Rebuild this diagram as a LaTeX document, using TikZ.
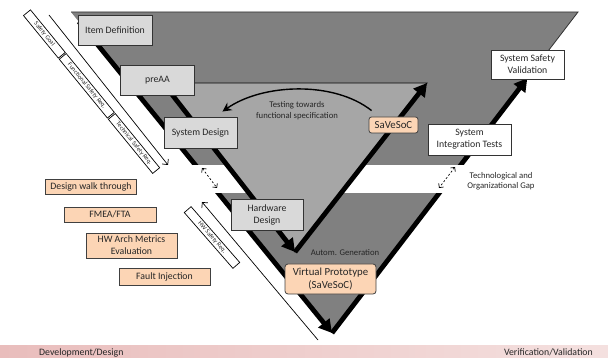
\documentclass[tikz,border=0pt]{standalone}
\usepackage{fontspec}
\setmainfont{Carlito}
\usepackage{tikz}
\usetikzlibrary{calc,arrows.meta}

\definecolor{vdark}{HTML}{808080}
\definecolor{vlight}{HTML}{A6A6A6}
\definecolor{boxgray}{HTML}{D9D9D9}
\definecolor{boxorange}{HTML}{FCD5B5}
\definecolor{barA}{HTML}{E9BDBC}
\definecolor{barB}{HTML}{E2AAA8}
\definecolor{barC}{HTML}{F4E0DF}

\begin{document}
\begin{tikzpicture}[x=1pt,y=-1pt,
    every node/.style={font=\fontsize{9.8}{12}\selectfont, text=black!85, align=center, inner sep=0pt},
    gbox/.style={draw=black!80, line width=0.9pt, fill=boxgray},
    wbox/.style={draw=black!80, line width=0.9pt, fill=white},
    obox/.style={draw=black!75, line width=0.8pt, fill=boxorange},
    small/.style={font=\fontsize{8.7}{10.5}\selectfont},
    sbar/.style={draw=black, line width=0.7pt, fill=white, rotate=-50.7, minimum height=9pt,
        font=\fontsize{6.3}{7}\selectfont},
    vline/.style={line width=4.8pt, -{Triangle[length=13pt,width=14pt]}},
    thinarrow/.style={line width=0.7pt, -{Straight Barb[length=4pt,width=8pt]}},
    gaparrow/.style={line width=0.7pt, dash pattern=on 2pt off 2pt,
        {Straight Barb[length=3pt,width=6pt]}-{Straight Barb[length=3pt,width=6pt]}}]
        \useasboundingbox (0,0) rectangle (608,358);

        \coordinate (O1) at (71,12);
        \coordinate (O2) at (578,12);
        \coordinate (O3) at (332,333);
        \coordinate (I1) at (163,83);
        \coordinate (I2) at (427,83);
        \coordinate (I3) at (295,252);

        \fill[vdark] (O1) -- (O2) -- (O3) -- cycle;
        \draw[line width=0.8pt, black!80] (O1) -- (O2) -- (O3);
        \draw[vline] ($(O1)!0.03!(O3)$) -- (O3);
        \draw[vline] (O3) -- ($(O3)!0.794!(O2)$);

        \fill[white] (188,165) rectangle (476,193);

        \filldraw[fill=vlight, draw=black, line width=0.8pt] (I1) -- (I2) -- (I3) -- cycle;
        \draw[vline] (I1) -- (I3);
        \draw[vline] (I3) -- (I2);

        \node[gbox, minimum width=74pt, minimum height=30pt] (ID) at (115,30) {Item Definition};
        \node[gbox, minimum width=74pt, minimum height=30pt] (PA) at (157.5,80) {preAA};
        \node[gbox, minimum width=73pt, minimum height=31pt] (SD) at (200.5,132.5) {System Design};
        \node[gbox, minimum width=72pt, minimum height=31pt] (HD) at (267,214.5) {Hardware\\Design};
        \node[wbox, minimum width=73pt, minimum height=29pt] (SSV) at (527.5,64.5) {System Safety\\Validation};
        \node[wbox, minimum width=83pt, minimum height=31pt] (SIT) at (469.5,139.5) {System\\Integration Tests};
        \node[obox, rounded corners=2.5pt, minimum width=49pt, minimum height=16pt,
            font=\fontsize{10.8}{13.5}\selectfont] (SV) at (393.5,125) {SaVeSoC};
        \node[obox, rounded corners=3pt, minimum width=91pt, minimum height=30pt,
            font=\fontsize{10.8}{13.5}\selectfont] (VP) at (330.5,279) {Virtual Prototype\\(SaVeSoC)};

        \node[obox, minimum width=91pt, minimum height=15pt] (DW) at (91,186.5) {Design walk through};
        \node[obox, minimum width=92pt, minimum height=15pt] (FM) at (110,214.5) {FMEA/FTA};
        \node[obox, minimum width=91pt, minimum height=25pt] (HA) at (131.5,245.5) {HW Arch Metrics\\Evaluation};
        \node[obox, minimum width=91pt, minimum height=17pt] (FI) at (164.5,276.5) {Fault Injection};

        \node[small] (T) at (297,110.5) {Testing towards\\functional specification};
        \node[small] (AG) at (345,253) {Autom. Generation};
        \node[small] (G) at (501,181) {Technological and\\Organizational Gap};

        \draw[line width=1.4pt, -{Stealth[length=9pt,width=9pt]}]
            ($(SV.north west)+(3,-6)$) .. controls +(-38,-30) and +(40,-28) .. ($(SD.north east)+(-15,-5)$);

        \node[sbar, minimum width=55pt] (SG) at (44.4,34) {Safety Goal};
        \node[sbar, minimum width=76pt] (FSR) at (86.8,85.8) {Functional Safety Req.};
        \node[sbar, minimum width=70pt] (TSR) at (134,143.5) {Technical Safety Req.};
        \node[sbar, rotate=1.8, minimum width=74pt] (HSR) at (212,237.5) {HW Safety Req.};

        \coordinate (a1) at (49,15);
        \coordinate (a2) at (168,165);
        \coordinate (b1) at (318,340);
        \coordinate (b2) at (202,202);
        \draw[thinarrow] (a1) -- (a2);
        \draw[thinarrow] (b1) -- (b2);

        \coordinate (c1) at (202,168);
        \coordinate (c2) at (217,188);
        \coordinate (d1) at (455,167);
        \coordinate (d2) at (439,188);
        \draw[gaparrow] (c1) -- (c2);
        \draw[gaparrow] (d1) -- (d2);

        \shade[left color=barA, middle color=barB, right color=barC] (0,345) rectangle (608,358);
        \node[anchor=base west] (DD) at (39,355.5) {Development/Design};
        \node[anchor=base east] (VV) at (593,355.5) {Verification/Validation};
    \end{tikzpicture}
\end{document}
